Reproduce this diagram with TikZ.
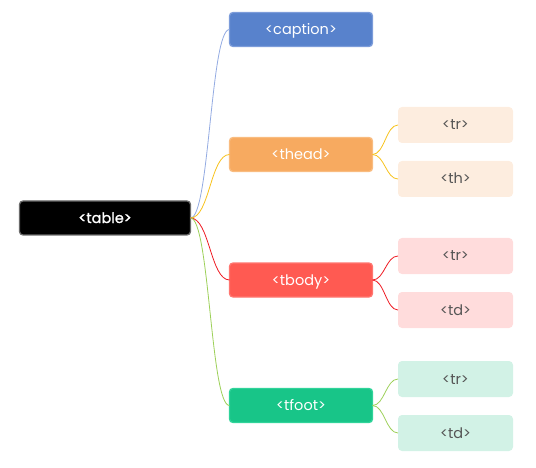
\documentclass[tikz,border=0pt]{standalone}
\usepackage{fontspec}
\setmainfont{Poppins}
\newfontfamily\rootfont[FakeBold=1.2]{Poppins}
\definecolor{capF}{HTML}{5882CC}
\definecolor{capD}{HTML}{7C9CDA}
\definecolor{thF}{HTML}{F7AA60}
\definecolor{thD}{HTML}{F9BC80}
\definecolor{tbF}{HTML}{FF5A52}
\definecolor{tbD}{HTML}{FF7670}
\definecolor{tfF}{HTML}{18C588}
\definecolor{tfD}{HTML}{30D49A}
\definecolor{lfA}{HTML}{FDEDDF}
\definecolor{lfB}{HTML}{FFDCDC}
\definecolor{lfC}{HTML}{D2F2E6}
\definecolor{txt}{HTML}{555555}
\definecolor{lnBlue}{HTML}{93ABE2}
\definecolor{lnYel}{HTML}{F7C21C}
\definecolor{lnRed}{HTML}{EE1A22}
\definecolor{lnGrn}{HTML}{9CD058}
\begin{document}
\begin{tikzpicture}[x=1pt,y=-1pt,
  every node/.style={inner sep=0pt,outer sep=0pt,text height=11pt,text depth=1pt},
  root/.style={draw=black!58,line width=1.3pt,fill=black,rounded corners=3.5pt,minimum width=171pt,minimum height=34pt,text=white,font=\fontsize{14.5}{16}\rootfont},
  mid/.style={line width=1.3pt,rounded corners=3.5pt,minimum width=143pt,minimum height=34pt,text=white,font=\fontsize{14.5}{16}\selectfont},
  leaf/.style={rounded corners=4pt,minimum width=115pt,minimum height=36pt,text=txt,font=\fontsize{14.5}{16}\selectfont},
  conn/.style={line width=0.8pt}
]
\useasboundingbox (0,0) rectangle (536,468);
\node[root] (table) at (105,218) {<table>};
\node[mid,fill=capF,draw=capD] (caption) at (301,29.5) {<caption>};
\node[mid,fill=thF,draw=thD] (thead) at (301,154.5) {<thead>};
\node[mid,fill=tbF,draw=tbD] (tbody) at (301,280) {<tbody>};
\node[mid,fill=tfF,draw=tfD] (tfoot) at (301,405.5) {<tfoot>};
\node[leaf,fill=lfA] (h1) at (455.5,125) {<tr>};
\node[leaf,fill=lfA] (h2) at (455.5,179) {<th>};
\node[leaf,fill=lfB] (b1) at (455.5,256) {<tr>};
\node[leaf,fill=lfB] (b2) at (455.5,310) {<td>};
\node[leaf,fill=lfC] (f1) at (455.5,379) {<tr>};
\node[leaf,fill=lfC] (f2) at (455.5,433) {<td>};
\draw[conn,lnBlue] (table.east) .. controls +(19,0) and +(-19,0) .. (caption.west);
\draw[conn,lnYel] (table.east) .. controls +(19,0) and +(-19,0) .. (thead.west);
\draw[conn,lnRed] (table.east) .. controls +(19,0) and +(-19,0) .. (tbody.west);
\draw[conn,lnGrn] (table.east) .. controls +(19,0) and +(-19,0) .. (tfoot.west);
\draw[conn,lnYel] (thead.east) .. controls +(12,0) and +(-12,0) .. (h1.west);
\draw[conn,lnYel] (thead.east) .. controls +(12,0) and +(-12,0) .. (h2.west);
\draw[conn,lnRed] (tbody.east) .. controls +(12,0) and +(-12,0) .. (b1.west);
\draw[conn,lnRed] (tbody.east) .. controls +(12,0) and +(-12,0) .. (b2.west);
\draw[conn,lnGrn] (tfoot.east) .. controls +(12,0) and +(-12,0) .. (f1.west);
\draw[conn,lnGrn] (tfoot.east) .. controls +(12,0) and +(-12,0) .. (f2.west);
\end{tikzpicture}
\end{document}
